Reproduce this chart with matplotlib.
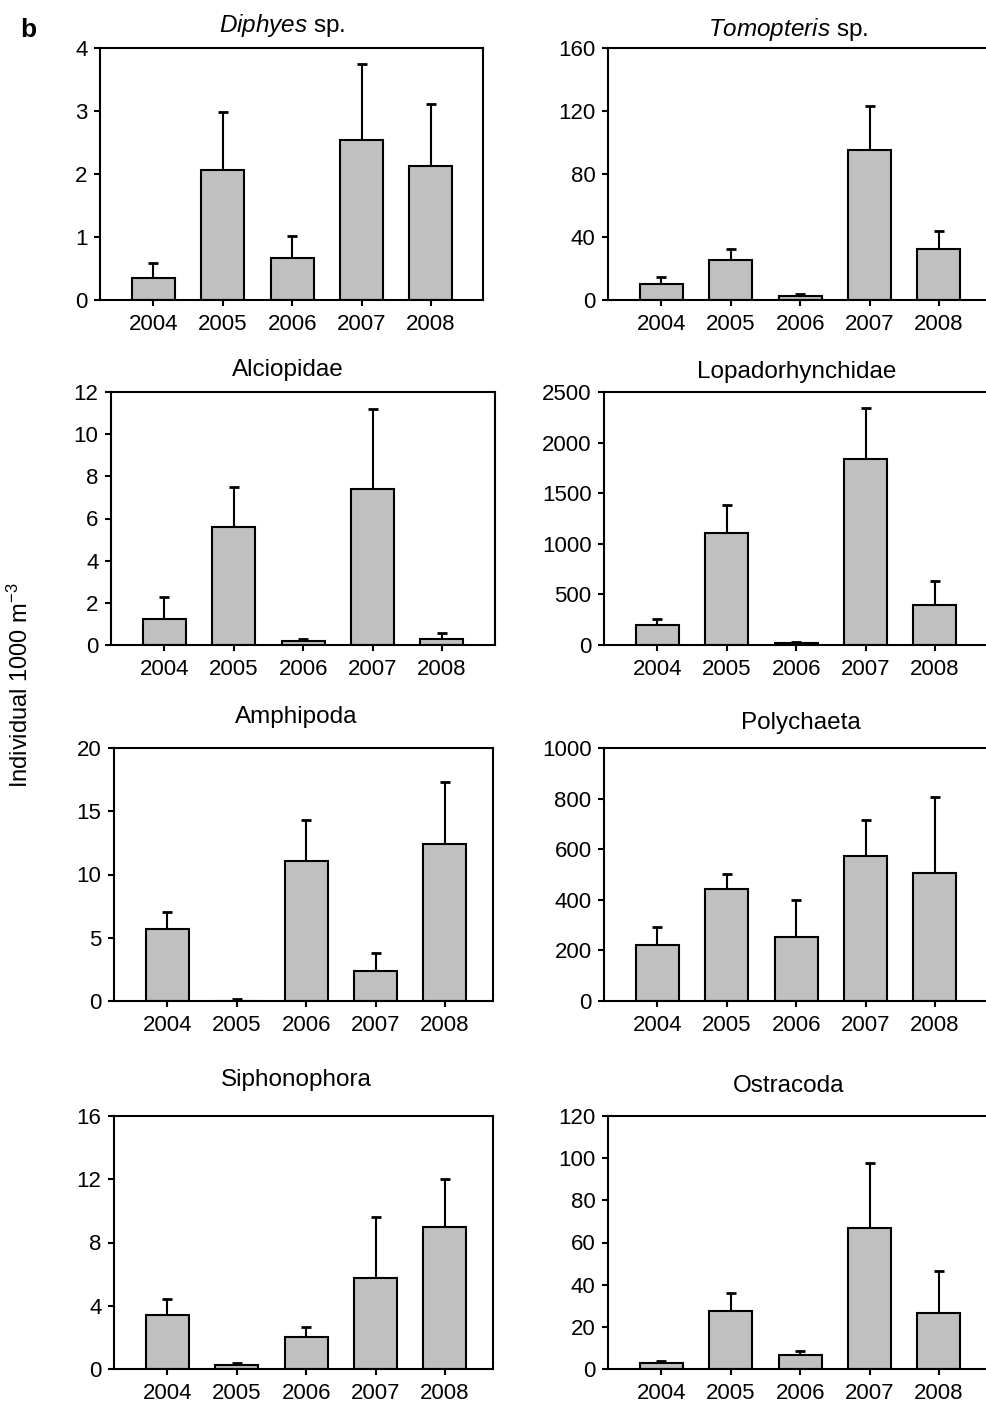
#!/usr/bin/env python3
# coding=utf-8

import numpy as np
import matplotlib
matplotlib.use('Agg')
import matplotlib.pyplot as plt

plt.rcParams['font.family'] = ['Liberation Sans', 'DejaVu Sans']
plt.rcParams['mathtext.fontset'] = 'custom'
plt.rcParams['mathtext.rm'] = 'Liberation Sans'
plt.rcParams['mathtext.it'] = 'Liberation Sans:italic'

years = ['2004', '2005', '2006', '2007', '2008']

titles = [r'$\mathit{Diphyes}$ sp.', r'$\mathit{Tomopteris}$ sp.', 'Alciopidae', 'Lopadorhynchidae',
          'Amphipoda', 'Polychaeta', 'Siphonophora', 'Ostracoda']

# means and upper end of error bar
diphyes = [0.35, 2.06, 0.67, 2.54, 2.13]
diphyes_top = [0.58, 2.98, 1.02, 3.75, 3.11]
tomopteris = [10.1, 25.4, 2.7, 95.1, 32.1]
tomopteris_top = [14.4, 32.1, 3.8, 123.4, 43.8]
alciopidae = [1.22, 5.58, 0.19, 7.38, 0.27]
alciopidae_top = [2.26, 7.5, 0.27, 11.18, 0.55]
lopado = [194, 1105, 16, 1836, 391]
lopado_top = [260, 1382, 33, 2345, 635]
amphipoda = [5.71, 0.0, 11.1, 2.38, 12.39]
amphipoda_top = [7.03, 0.18, 14.27, 3.83, 17.3]
polychaeta = [222, 444, 254, 572, 507]
polychaeta_top = [293, 501, 398, 716, 808]
siphono = [3.39, 0.25, 2.02, 5.78, 8.96]
siphono_top = [4.44, 0.36, 2.65, 9.59, 12.0]
ostracoda = [2.8, 27.3, 6.6, 67.0, 26.5]
ostracoda_top = [3.8, 36.0, 8.5, 97.5, 46.5]

means = [diphyes, tomopteris, alciopidae, lopado, amphipoda, polychaeta, siphono, ostracoda]
tops = [diphyes_top, tomopteris_top, alciopidae_top, lopado_top,
        amphipoda_top, polychaeta_top, siphono_top, ostracoda_top]

yticks = [np.arange(0, 5, 1), np.arange(0, 161, 40), np.arange(0, 13, 2), np.arange(0, 2501, 500),
          np.arange(0, 21, 5), np.arange(0, 1001, 200), np.arange(0, 17, 4), np.arange(0, 121, 20)]

W, H = 986, 1405
# axes boxes in pixels: left, top, right, bottom
boxes = [(100, 48, 483, 300), (608, 48, 992, 300),
         (111, 392, 495, 645), (604, 392, 990, 645),
         (114, 748, 493, 1001), (604, 748, 990, 1001),
         (114, 1116, 493, 1369), (608, 1116, 992, 1369)]
title_gap = [16, 12, 16, 14, 25, 19, 30, 24]
title_x = [0.477, 0.47, 0.46, 0.50, 0.48, 0.51, 0.48, 0.47]

fig = plt.figure(figsize=(W / 100, H / 100), dpi=100)

x = np.arange(len(years))
for i in range(8):
    l, t, r, b = boxes[i]
    ax = fig.add_axes([l / W, 1 - b / H, (r - l) / W, (b - t) / H])
    m = np.array(means[i])
    e = np.array(tops[i]) - m
    ax.errorbar(x, m, yerr=[np.zeros_like(e), e], fmt='none', ecolor='black',
                elinewidth=1.5, capsize=3.5, capthick=2, zorder=1)
    ax.bar(x, m, width=0.62, color='#c0c0c0', edgecolor='black', linewidth=1.5, zorder=2)
    ax.set_xlim(-0.77, 4.75 + (r - l - 383) / 69.5)
    ax.set_ylim(yticks[i][0], yticks[i][-1])
    ax.set_yticks(yticks[i])
    ax.set_xticks(x)
    ax.set_xticklabels(years)
    ax.tick_params(axis='both', labelsize=16, length=4, width=1.5, direction='out')
    ax.tick_params(axis='x', pad=6)
    ax.tick_params(axis='y', pad=5)
    for s in ax.spines.values():
        s.set_linewidth(1.5)
    ax.text(title_x[i], 1 + title_gap[i] / (b - t), titles[i], transform=ax.transAxes,
            ha='center', va='baseline', fontsize=17.5)

fig.text(28 / W, 1 - 30 / H, 'b', fontsize=19, fontweight='bold', ha='center', va='center')
fig.text(20 / W, 1 - 685 / H, r'Individual 1000 m$^{\mathregular{-3}}$', rotation=90,
         fontsize=17, ha='center', va='center')

fig.savefig('out.png', dpi=100)
